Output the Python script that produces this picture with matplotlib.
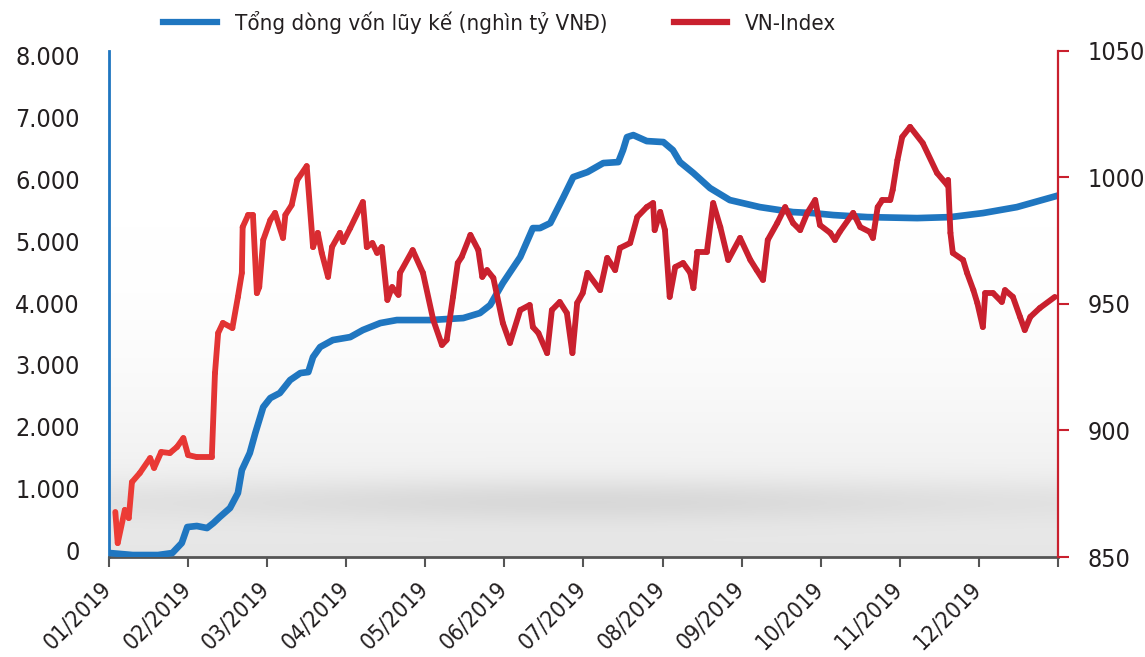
import numpy as np
import matplotlib
matplotlib.use("Agg")
import matplotlib.pyplot as plt
from matplotlib import font_manager
from matplotlib.collections import LineCollection
from matplotlib.lines import Line2D
from matplotlib.colors import to_rgb
from matplotlib.transforms import ScaledTranslation

# narrow sans for all text; fall back to condensed DejaVu
names = {f.name for f in font_manager.fontManager.ttflist}
if 'Liberation Sans Narrow' in names:
    plt.rcParams['font.family'] = ['Liberation Sans Narrow', 'DejaVu Sans']
else:
    plt.rcParams['font.family'] = ['DejaVu Sans']
    plt.rcParams['font.stretch'] = 'condensed'

# x positions are in months from the start of 01/2019
month_labels = ['01/2019', '02/2019', '03/2019', '04/2019', '05/2019', '06/2019',
                '07/2019', '08/2019', '09/2019', '10/2019', '11/2019', '12/2019']

# cumulative flow (thousand billion VND)
flow_x = [0.01, 0.30, 0.62, 0.80, 0.92, 0.99, 1.11, 1.24, 1.32, 1.40, 1.53, 1.63, 1.68,
          1.78, 1.85, 1.95, 2.04, 2.16, 2.29, 2.42, 2.52, 2.58, 2.67, 2.83, 3.05, 3.21,
          3.43, 3.64, 4.06, 4.48, 4.69, 4.82, 4.98, 5.20, 5.36, 5.45, 5.58, 5.74, 5.87,
          6.05, 6.25, 6.44, 6.50, 6.55, 6.63, 6.80, 7.01, 7.13, 7.22, 7.39, 7.60, 7.85,
          8.23, 8.65, 8.90, 9.16, 9.59, 10.22, 10.64, 11.05, 11.48, 12.0]
flow_y = [-49, -81, -81, -49, 113, 372, 389, 356, 437, 534, 680, 923, 1295,
          1570, 1894, 2315, 2461, 2542, 2752, 2866, 2882, 3125, 3287, 3400, 3448, 3562,
          3675, 3724, 3724, 3756, 3837, 3967, 4323, 4744, 5213, 5213, 5294, 5699, 6039,
          6120, 6266, 6282, 6476, 6686, 6719, 6622, 6606, 6476, 6282, 6104, 5861, 5667,
          5553, 5472, 5456, 5424, 5391, 5375, 5391, 5456, 5553, 5740]

# VN-Index
vni_x = [0.08, 0.11, 0.20, 0.25, 0.29, 0.39, 0.52, 0.57, 0.66, 0.77, 0.86, 0.94, 1.00,
         1.11, 1.30, 1.34, 1.38, 1.44, 1.56, 1.63, 1.68, 1.69, 1.76, 1.82, 1.87, 1.90,
         1.95, 2.04, 2.10, 2.20, 2.23, 2.31, 2.38, 2.50, 2.58, 2.64, 2.69, 2.77, 2.82,
         2.92, 2.96, 3.05, 3.21, 3.26, 3.33, 3.39, 3.45, 3.52, 3.58, 3.66, 3.68, 3.84,
         3.97, 4.10, 4.21, 4.27, 4.35, 4.41, 4.46, 4.57, 4.67, 4.72, 4.78, 4.86, 4.98,
         5.07, 5.20, 5.32, 5.36, 5.43, 5.54, 5.60, 5.70, 5.79, 5.86, 5.92, 5.99, 6.05,
         6.21, 6.30, 6.40, 6.46, 6.59, 6.68, 6.80, 6.88, 6.90, 6.97, 7.03, 7.09, 7.16,
         7.26, 7.35, 7.39, 7.44, 7.56, 7.64, 7.73, 7.83, 7.98, 8.11, 8.19, 8.27, 8.33,
         8.45, 8.55, 8.65, 8.74, 8.83, 8.93, 8.99, 9.12, 9.18, 9.24, 9.41, 9.50, 9.62,
         9.66, 9.72, 9.78, 9.88, 9.91, 9.97, 10.03, 10.13, 10.29, 10.47, 10.60, 10.61,
         10.64, 10.67, 10.80, 10.85, 10.93, 10.98, 11.05, 11.08, 11.18, 11.29, 11.33,
         11.43, 11.52, 11.58, 11.65, 11.77, 11.96]
vni_y = [867.8, 855.5, 868.6, 865.4, 879.6, 883.2, 889.1, 885.2, 891.5, 891.1, 893.5, 897.0, 890.3,
         889.5, 889.5, 922.7, 938.5, 942.5, 940.5, 952.8, 962.3, 980.4, 985.2, 985.2, 954.3, 956.7,
         975.3, 983.2, 986.0, 976.1, 985.2, 989.1, 999.0, 1004.5, 972.5, 978.1, 970.2, 960.7, 972.5,
         978.1, 974.5, 980.0, 990.3, 972.5, 974.1, 970.2, 972.5, 951.6, 956.7, 953.6, 962.3, 971.3,
         962.3, 943.7, 933.8, 935.8, 952.8, 966.2, 968.6, 977.3, 971.3, 960.7, 963.4, 960.3, 942.5,
         934.6, 947.6, 949.6, 940.9, 938.5, 930.6, 947.6, 950.8, 946.4, 930.6, 950.4, 954.3, 962.3,
         955.5, 968.2, 963.4, 972.1, 974.1, 984.4, 988.3, 989.9, 979.2, 986.4, 979.2, 952.8, 964.6,
         966.2, 962.3, 956.3, 970.6, 970.6, 989.9, 980.4, 967.4, 976.1, 967.4, 963.4, 959.5, 975.3,
         982.0, 988.3, 982.0, 979.2, 986.0, 991.1, 981.2, 978.1, 975.3, 978.5, 986.0, 980.4, 978.5,
         976.1, 988.3, 991.1, 991.1, 995.1, 1006.9, 1016.0, 1020.0, 1013.6, 1001.8, 997.0, 999.0,
         978.1, 970.2, 967.4, 962.3, 955.5, 950.4, 940.9, 954.3, 954.3, 950.8, 955.5,
         952.8, 944.9, 939.7, 944.9, 948.4, 952.8]

blue = '#1f76c0'
red = '#c9202e'
text_col = '#231f20'
fs = 18

fig = plt.figure(figsize=(11.45, 6.57), dpi=100)
ax = fig.add_axes([0.0952, 0.1522, 0.8288, 0.7702])
ax2 = ax.twinx()

# grey backdrop with a soft horizontal band near the bottom
t = np.linspace(0, 1, 400)[:, None]
u = np.linspace(0, 1, 600)[None, :]
ramp = np.clip((t - 0.35) / 0.65, 0, 1)
base = 1 - 0.10 * ramp ** 2
hx = 0.45 + 0.55 * np.exp(-((u - 0.5) / 0.38) ** 2)
band = 0.08 * np.exp(-((t - 0.89) / 0.045) ** 2) * hx
g = np.clip(base - band, 0, 1)
ax.imshow(np.dstack([g, g, g]), extent=(0, 1, 0, 1), transform=ax.transAxes,
          aspect='auto', zorder=0, interpolation='bilinear')

ax.plot(flow_x, flow_y, color=blue, lw=4.8, solid_capstyle='round',
        solid_joinstyle='round', zorder=3)

# VN-Index drawn as segments, shading from orange-red to deep red
pts = np.column_stack([vni_x, vni_y])
segs = np.stack([pts[:-1], pts[1:]], axis=1)
c0, c1 = np.array(to_rgb('#ee3d36')), np.array(to_rgb(red))
mid = (pts[:-1, 0] + pts[1:, 0]) / 2
f = np.clip(mid / 4.5, 0, 1)[:, None]
cols = c0 * (1 - f) + c1 * f
lc = LineCollection(segs, colors=cols, linewidths=4.2, capstyle='round',
                    joinstyle='round', zorder=4)
ax2.add_collection(lc)

ax.set_xlim(0, 12)
ax.set_ylim(-113, 8081)
ax2.set_ylim(850, 1050)

ax.set_xticks(range(13))
ax.set_xticklabels(month_labels + [''], rotation=45, ha='right', va='baseline',
                   rotation_mode='anchor', fontsize=16.5, color=text_col)
ax.tick_params(axis='x', length=7, width=1.5, color='#555555', pad=17)
# nudge the slanted month labels a little to the right
shift = ScaledTranslation(4 / 100, 0, fig.dpi_scale_trans)
for lbl in ax.get_xticklabels():
    lbl.set_transform(lbl.get_transform() + shift)

ax.set_yticks(range(0, 8001, 1000))
ax.set_yticklabels([f'{v:,}'.replace(',', '.') for v in range(0, 8001, 1000)],
                   fontsize=fs, color=text_col)
ax.tick_params(axis='y', length=0, pad=21)

ax2.set_yticks([850, 900, 950, 1000, 1050])
ax2.set_yticklabels(['850', '900', '950', '1000', '1050'], fontsize=fs, color=text_col)
ax2.tick_params(axis='y', length=8, width=1.5, color=red, pad=13)

for a in (ax, ax2):
    a.spines['top'].set_visible(False)
ax2.spines['left'].set_visible(False)
ax2.spines['bottom'].set_visible(False)
ax.spines['right'].set_visible(False)
ax.spines['left'].set_color(blue)
ax.spines['left'].set_linewidth(2)
ax.spines['bottom'].set_color('#555555')
ax.spines['bottom'].set_linewidth(2)
ax2.spines['right'].set_color(red)
ax2.spines['right'].set_linewidth(1.6)

handles = [Line2D([], [], color=blue, lw=4.5),
           Line2D([], [], color=red, lw=4.5)]
fig.legend(handles, ['Tổng dòng vốn lũy kế (nghìn tỷ VNĐ)', 'VN-Index'],
           loc='center', bbox_to_anchor=(0.4365, 0.966), ncol=2, frameon=False,
           fontsize=16, handlelength=2.4, handletextpad=0.8, columnspacing=3.0,
           labelcolor=text_col)

fig.savefig('out.png', dpi=100)
